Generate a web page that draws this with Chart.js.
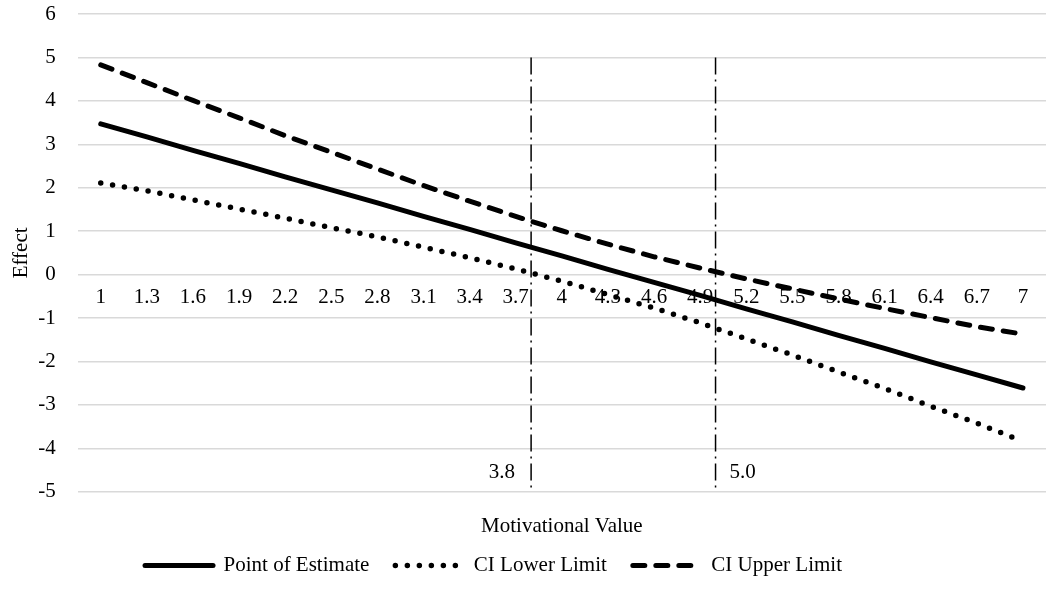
<!DOCTYPE html>
<html>
<head>
<meta charset="utf-8">
<title>Effect by Motivational Value</title>
<script src="https://cdn.jsdelivr.net/npm/chart.js@4.4.1/dist/chart.umd.min.js"></script>
<style>
  html, body { margin: 0; padding: 0; background: #ffffff; }
  #wrap { width: 1046px; height: 589px; position: relative; }
</style>
</head>
<body>
<div id="wrap"><canvas id="chart"></canvas></div>
<script>
// x categories (motivational value) and the tick text shown for them
const xValues = [1, 1.3, 1.6, 1.9, 2.2, 2.5, 2.8, 3.1, 3.4, 3.7, 4, 4.3, 4.6, 4.9, 5.2, 5.5, 5.8, 6.1, 6.4, 6.7, 7];
const xLabels = ['1', '1.3', '1.6', '1.9', '2.2', '2.5', '2.8', '3.1', '3.4', '3.7', '4', '4.3', '4.6', '4.9', '5.2', '5.5', '5.8', '6.1', '6.4', '6.7', '7'];

// series
const pointEstimate = [3.47, 3.17, 2.86, 2.56, 2.25, 1.95, 1.65, 1.34, 1.04, 0.73, 0.43, 0.12, -0.18, -0.48, -0.79, -1.09, -1.40, -1.70, -2.01, -2.31, -2.61];
const ciLower = [2.11, 1.93, 1.72, 1.51, 1.30, 1.08, 0.87, 0.63, 0.39, 0.13, -0.15, -0.46, -0.77, -1.11, -1.48, -1.85, -2.24, -2.62, -3.03, -3.42, -3.84];
const ciUpper = [4.83, 4.42, 4.01, 3.61, 3.20, 2.82, 2.43, 2.05, 1.69, 1.34, 1.01, 0.70, 0.41, 0.15, -0.10, -0.33, -0.56, -0.78, -0.99, -1.20, -1.37];

// Johnson-Neyman cut points (vertical markers) and their labels
const jnValues = [3.8, 5.0];
const jnLabels = ['3.8', '5.0'];
const jnRange = [5, -5];

const FONT = "'Liberation Serif', 'Times New Roman', serif";
const BLACK = '#000000';

const toPoints = (ys) => ys.map((y, i) => ({ x: xValues[i], y: y }));

// labels next to the vertical lines
const jnLabelPlugin = {
  id: 'jnLabels',
  afterDatasetsDraw(chart) {
    const { ctx, scales } = chart;
    ctx.save();
    ctx.font = '21px ' + FONT;
    ctx.fillStyle = BLACK;
    ctx.textBaseline = 'middle';
    jnValues.forEach((v, i) => {
      const px = scales.x.getPixelForValue(v);
      const py = scales.y.getPixelForValue(-4.55);
      if (i === 0) {
        ctx.textAlign = 'right';
        ctx.fillText(jnLabels[i], px - 16, py);
      } else {
        ctx.textAlign = 'left';
        ctx.fillText(jnLabels[i], px + 14, py);
      }
    });
    ctx.restore();
  }
};

// the legend in the original sits a bit left of the page centre
const legendShift = {
  id: 'legendShift',
  afterLayout(chart) {
    chart.legend.left -= 34;
    chart.legend.right -= 34;
  }
};

const datasets = [
  {
    label: 'Point of Estimate',
    data: toPoints(pointEstimate),
    borderColor: BLACK,
    borderWidth: 5,
    borderCapStyle: 'round',
    pointRadius: 0,
  },
  {
    label: 'CI Lower Limit',
    data: toPoints(ciLower),
    borderColor: BLACK,
    borderWidth: 5.5,
    borderDash: [0, 12],
    borderCapStyle: 'round',
    pointRadius: 0,
  },
  {
    label: 'CI Upper Limit',
    data: toPoints(ciUpper),
    borderColor: BLACK,
    borderWidth: 5,
    borderDash: [12, 11],
    borderCapStyle: 'round',
    pointRadius: 0,
  },
];

jnValues.forEach((v) => {
  datasets.push({
    label: 'jn',
    data: jnRange.map((y) => ({ x: v, y: y })),
    borderColor: BLACK,
    borderWidth: 1.5,
    borderDash: [17, 5, 2, 5],
    pointRadius: 0,
  });
});

new Chart(document.getElementById('chart'), {
  type: 'line',
  data: { datasets: datasets },
  plugins: [jnLabelPlugin, legendShift],
  options: {
    responsive: true,
    maintainAspectRatio: false,
    animation: false,
    layout: { padding: { top: 14, right: 0, left: 9, bottom: 3 } },
    plugins: {
      tooltip: { enabled: false },
      legend: {
        position: 'bottom',
        labels: {
          usePointStyle: true,
          pointStyleWidth: 68,
          padding: 26,
          color: BLACK,
          font: { family: FONT, size: 21 },
          generateLabels: (chart) => chart.data.datasets.slice(0, 3).map((ds, i) => ({
            text: ds.label,
            fillStyle: ds.borderColor,
            strokeStyle: ds.borderColor,
            lineWidth: ds.borderWidth,
            lineDash: ds.borderDash || [],
            lineCap: ds.borderCapStyle,
            pointStyle: 'line',
            fontColor: BLACK,
            hidden: false,
            datasetIndex: i,
          })),
        },
      },
    },
    scales: {
      x: {
        type: 'linear',
        position: { y: 0 },
        min: 0.85,
        max: 7.15,
        afterBuildTicks: (scale) => {
          scale.ticks = xValues.map((v) => ({ value: v }));
        },
        grid: { display: false, drawTicks: false },
        border: { display: false },
        ticks: {
          autoSkip: false,
          maxRotation: 0,
          padding: 10,
          color: BLACK,
          font: { family: FONT, size: 21 },
          callback: (value, index) => xLabels[index],
        },
      },
      xTitle: {
        type: 'linear',
        position: 'bottom',
        min: 0,
        max: 1,
        grid: { display: false, drawTicks: false },
        border: { display: false },
        ticks: { display: false },
        title: {
          display: true,
          text: 'Motivational Value',
          color: BLACK,
          font: { family: FONT, size: 21 },
          padding: { top: 22, bottom: -10 },
        },
      },
      y: {
        min: -5,
        max: 6,
        // gap between labels and plot comes from an invisible tick mark,
        // a tick padding would also be added above the top gridline
        grid: { color: '#d9d9d9', lineWidth: 1.5, drawTicks: true, tickLength: 22, tickColor: 'rgba(0,0,0,0)' },
        border: { display: false },
        ticks: {
          stepSize: 1,
          padding: 0,
          color: BLACK,
          font: { family: FONT, size: 21 },
        },
        title: {
          display: true,
          text: 'Effect',
          color: BLACK,
          font: { family: FONT, size: 21 },
          padding: { top: 0, bottom: 4 },
        },
      },
    },
  },
});
</script>
</body>
</html>
